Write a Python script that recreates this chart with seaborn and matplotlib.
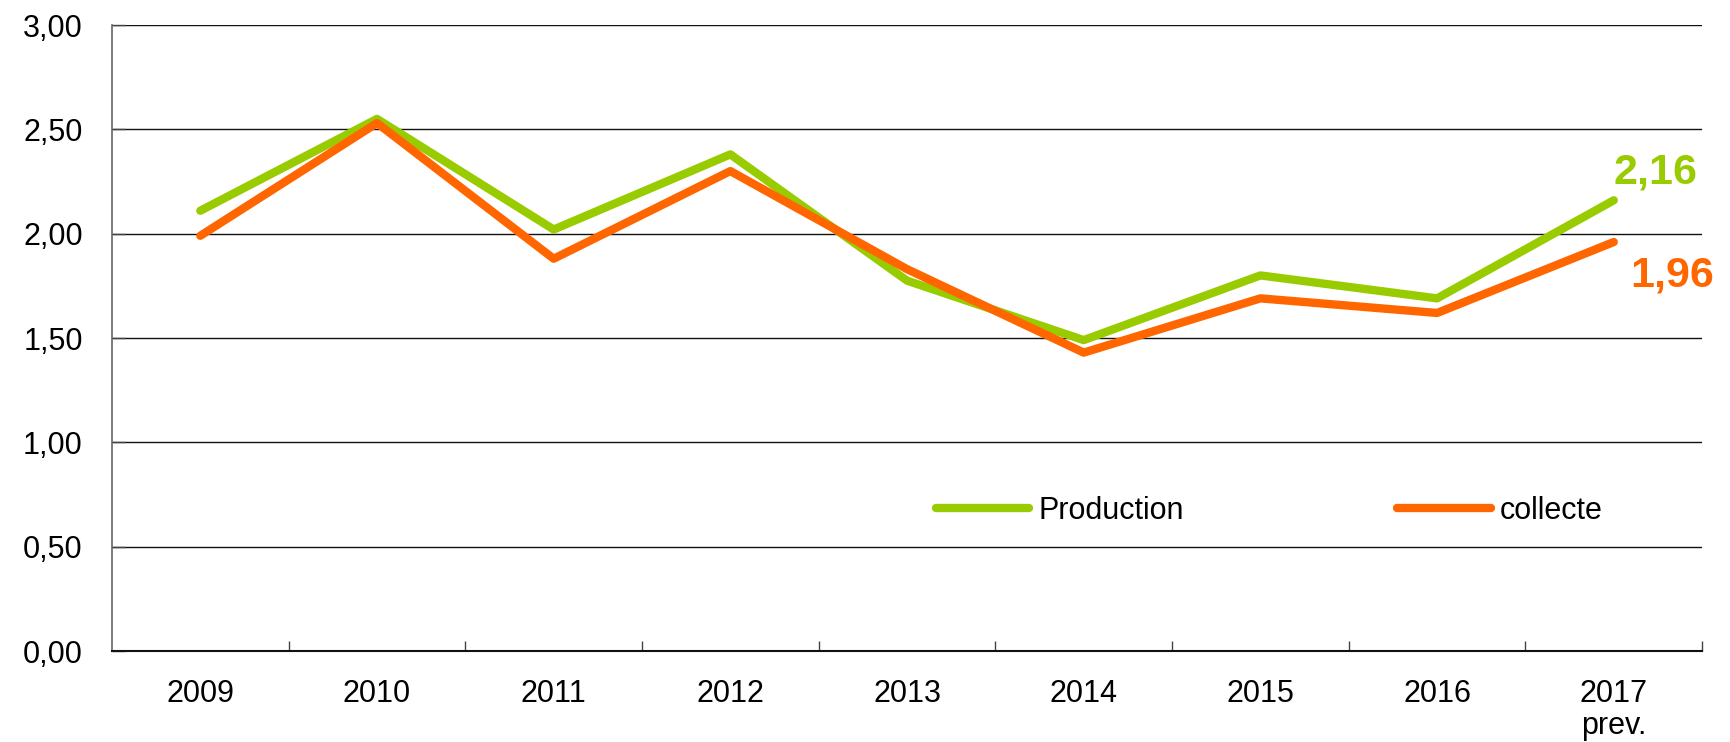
import matplotlib
matplotlib.use("Agg")
import matplotlib.pyplot as plt
import seaborn as sns
import pandas as pd
from matplotlib.ticker import FuncFormatter, FixedLocator

years = ["2009", "2010", "2011", "2012", "2013", "2014", "2015", "2016", "2017\nprev."]
production = [2.11, 2.55, 2.02, 2.38, 1.775, 1.49, 1.80, 1.69, 2.16]
collecte = [1.99, 2.53, 1.88, 2.30, 1.83, 1.43, 1.69, 1.62, 1.96]
series_names = ["Production", "collecte"]
colors = ["#99CC00", "#FF6600"]

df = pd.DataFrame({
    "year": years * 2,
    "value": production + collecte,
    "serie": [series_names[0]] * len(years) + [series_names[1]] * len(years),
})

sns.set_theme(style="white")
plt.rcParams["font.family"] = ["Liberation Sans", "DejaVu Sans"]

fig = plt.figure(figsize=(17.31, 7.42), dpi=100)
ax = fig.add_axes([0.0647, 0.1226, 0.9186, 0.8437])

sns.lineplot(data=df, x="year", y="value", hue="serie", palette=colors,
             linewidth=6, sort=False, ax=ax, solid_capstyle="round")

ax.set_ylim(0, 3.0)
ax.set_xlim(-0.5, len(years) - 0.5)
ax.set_yticks([0, 0.5, 1.0, 1.5, 2.0, 2.5, 3.0])
ax.yaxis.set_major_formatter(FuncFormatter(lambda v, p: f"{v:.2f}".replace(".", ",")))
ax.set_xticks(range(len(years)))
ax.set_xticklabels(years)
ax.xaxis.set_minor_locator(FixedLocator([i + 0.5 for i in range(len(years))]))
ax.tick_params(axis="x", which="major", length=0, pad=20, labelsize=22, colors="black")
ax.tick_params(axis="x", which="minor", length=7, direction="in", width=1, color="#444444", bottom=True)
ax.tick_params(axis="y", which="major", length=9, direction="in", width=1, color="#444444",
               pad=21, labelsize=22, left=True, labelcolor="black")
for lab in ax.get_xticklabels():
    lab.set_linespacing(1.1)
ax.grid(axis="y", color="#111111", linewidth=1)
ax.grid(axis="x", visible=False)
ax.set_axisbelow(True)
for s in ["top", "right"]:
    ax.spines[s].set_visible(False)
ax.spines["left"].set_color("#666666")
ax.spines["left"].set_linewidth(1.2)
ax.spines["bottom"].set_color("#111111")
ax.spines["bottom"].set_linewidth(1.5)
ax.set_xlabel("")
ax.set_ylabel("")

last = len(years) - 1
ax.annotate(f"{production[-1]:.2f}".replace(".", ","), (last, production[-1]),
            xytext=(0, 20), textcoords="offset points", ha="left", va="center",
            fontsize=31, fontweight="bold", color=colors[0])
ax.annotate(f"{collecte[-1]:.2f}".replace(".", ","), (last, collecte[-1]),
            xytext=(12, -24), textcoords="offset points", ha="left", va="center",
            fontsize=31, fontweight="bold", color=colors[1])

leg = ax.legend(loc="center left", bbox_to_anchor=(0.518, 0.224), ncol=2, frameon=False,
                fontsize=22, handlelength=3.05, handletextpad=0.3, columnspacing=7.0,
                borderpad=0, borderaxespad=0)
for text in leg.get_texts():
    text.set_color("black")
for line in leg.get_lines():
    line.set_linewidth(6)
    line.set_solid_capstyle("round")

fig.savefig("out.png", dpi=100)
